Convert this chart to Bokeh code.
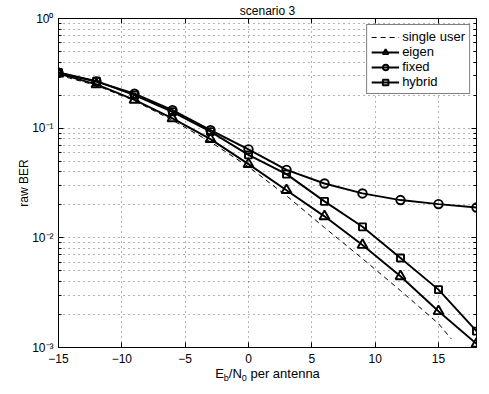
from bokeh.plotting import figure
from bokeh.models import (FixedTicker, LinearAxis, LogAxis, Legend, LegendItem, Range1d, Div)
from bokeh.layouts import column
from bokeh.embed import file_html
from bokeh.resources import INLINE

# ---- data ----
snr = [-15, -12, -9, -6, -3, 0, 3, 6, 9, 12, 15, 18]
snr_single = [-15, -12, -9, -6, -3, 0, 3, 6, 9, 12, 15, 16]
ber_single = [0.305, 0.245, 0.178, 0.118, 0.075, 0.0445, 0.0242, 0.0124, 0.00646, 0.0033, 0.00165, 0.0012]
ber_eigen = [0.314, 0.251, 0.181, 0.123, 0.0794, 0.047, 0.0272, 0.0157, 0.0086, 0.00446, 0.00214, 0.00108]
ber_fixed = [0.320, 0.266, 0.206, 0.146, 0.096, 0.064, 0.0417, 0.0313, 0.0254, 0.0221, 0.0203, 0.0189]
ber_hybrid = [0.322, 0.268, 0.200, 0.141, 0.093, 0.0571, 0.0381, 0.0215, 0.0126, 0.00655, 0.00337, 0.00141]

x_ticks = [-15, -10, -5, 0, 5, 10, 15]
x_tick_labels = {-15: "\u221215", -10: "\u221210", -5: "\u22125", 0: "0", 5: "5", 10: "10", 15: "15"}
y_ticks = [1e-3, 1e-2, 1e-1, 1.0]
y_tick_labels = {1e-3: "10\u207b\u00b3", 1e-2: "10\u207b\u00b2", 1e-1: "10\u207b\u00b9", 1.0: "10\u2070"}
y_minor = [k * 10.0 ** e for e in (-3, -2, -1) for k in range(2, 10)]

title_text = "scenario 3"
ylabel_text = "raw BER"
legend_labels = ["single user", "eigen", "fixed", "hybrid"]

FONT = "Liberation Sans"
W, H = 489, 366
BL, BR, BT, BB = 58, 13, 18, 19

p = figure(width=W, height=H, output_backend="svg", toolbar_location=None,
           y_axis_type="log", x_range=Range1d(-15, 18), y_range=Range1d(1e-3, 1.0),
           min_border_left=BL, min_border_right=BR, min_border_top=BT, min_border_bottom=BB,
           background_fill_color="white", border_fill_color="white")
p.outline_line_color = "black"
p.outline_line_width = 1

bottom = p.below[0]
left = p.left[0]

xt = FixedTicker(ticks=x_ticks, minor_ticks=[])
yt = FixedTicker(ticks=y_ticks, minor_ticks=y_minor)
bottom.ticker = xt
bottom.major_label_overrides = x_tick_labels
left.ticker = yt
left.major_label_overrides = y_tick_labels
left.axis_label = ylabel_text
left.axis_label_text_font_style = "normal"
left.axis_label_text_font = FONT
left.axis_label_text_font_size = "12px"
left.axis_label_text_color = "black"
left.axis_label_standoff = -2

top = LinearAxis(ticker=xt, major_label_text_font_size="1px", major_label_text_alpha=0,
                 major_label_standoff=0)
top.axis_label = title_text
top.axis_label_text_font = FONT
top.axis_label_text_font_style = "normal"
top.axis_label_text_font_size = "12px"
top.axis_label_text_color = "black"
top.axis_label_standoff = 1
right = LogAxis(ticker=yt, major_label_text_font_size="1px", major_label_text_alpha=0,
                major_label_standoff=0)
p.add_layout(top, "above")
p.add_layout(right, "right")

for ax in [bottom, left, top, right]:
    ax.axis_line_color = "black"
    ax.major_tick_line_color = "black"
    ax.minor_tick_line_color = "black"
    ax.major_tick_in = 5
    ax.major_tick_out = 0
    ax.minor_tick_in = 3
    ax.minor_tick_out = 0
    ax.major_label_text_font = FONT
bottom.major_label_text_font_size = "12px"
bottom.major_label_text_color = "black"
bottom.major_label_standoff = 6
left.major_label_text_font_size = "12px"
left.major_label_text_color = "black"
left.major_label_standoff = 5

# grid
p.xgrid.ticker = xt
p.ygrid.ticker = yt
for g in [p.xgrid[0], p.ygrid[0]]:
    g.grid_line_color = "black"
    g.grid_line_alpha = 0.6
    g.grid_line_dash = "1 4"
    g.grid_line_width = 1
p.ygrid.minor_grid_line_color = "black"
p.ygrid.minor_grid_line_alpha = 0.6
p.ygrid.minor_grid_line_dash = "1 4"

# series
r_single = p.line(snr_single, ber_single, line_color="black", line_width=1, line_dash="5 4")
lw = 1.9
l_e = p.line(snr, ber_eigen, line_color="black", line_width=lw)
m_e = p.scatter(snr, ber_eigen, marker="triangle", size=10, fill_color=None, line_color="black", line_width=lw)
l_f = p.line(snr, ber_fixed, line_color="black", line_width=lw)
m_f = p.scatter(snr, ber_fixed, marker="circle", size=8.5, fill_color=None, line_color="black", line_width=lw)
l_h = p.line(snr, ber_hybrid, line_color="black", line_width=lw)
m_h = p.scatter(snr, ber_hybrid, marker="square", size=7, fill_color=None, line_color="black", line_width=lw)

legend = Legend(items=[
    LegendItem(label=legend_labels[0], renderers=[r_single]),
    LegendItem(label=legend_labels[1], renderers=[l_e, m_e]),
    LegendItem(label=legend_labels[2], renderers=[l_f, m_f]),
    LegendItem(label=legend_labels[3], renderers=[l_h, m_h]),
], location="top_right")
legend.label_text_font = FONT
legend.label_text_font_size = "13px"
legend.label_text_color = "black"
legend.label_height = 14
legend.glyph_height = 14
legend.glyph_width = 28
legend.spacing = 0
legend.padding = 4
legend.margin = 6
legend.label_standoff = 3
legend.border_line_color = "black"
legend.border_line_width = 1
legend.background_fill_alpha = 1
p.add_layout(legend, "center")

# x-axis label with subscripts: E_b/N_0 per antenna
sub = "font-size:9px;vertical-align:-3px;line-height:0;"
xlabel_html = (
    f'<div style="width:489px;padding-left:46px;box-sizing:border-box;text-align:center;'
    f'font-family:\'{FONT}\';font-size:13px;line-height:13px;color:black;margin:0;">'
    f'E<span style="{sub}">b</span>/N<span style="{sub}">0</span> per antenna</div>'
)
xlabel = Div(text=xlabel_html, width=W, height=28, margin=(0, 0, 0, 0))

layout = column(p, xlabel, spacing=0)
open("out.html", "w").write(file_html(layout, INLINE))
